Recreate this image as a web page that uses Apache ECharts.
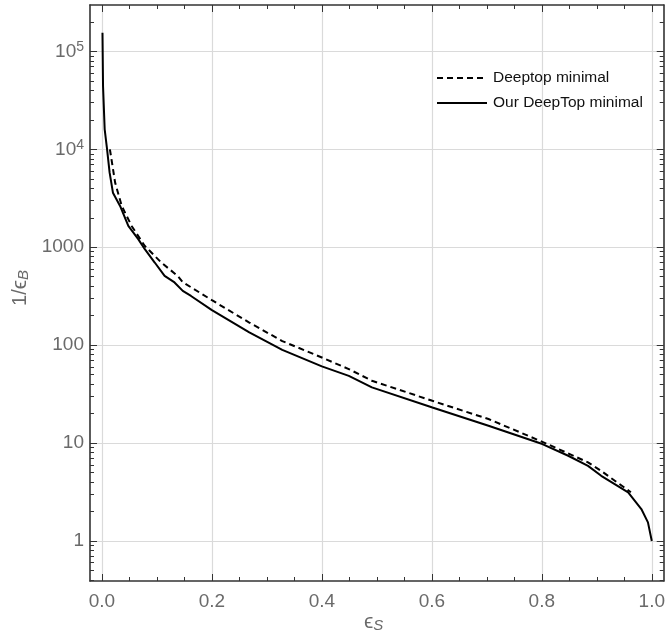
<!DOCTYPE html>
<html>
<head>
<meta charset="utf-8">
<script src="https://cdn.jsdelivr.net/npm/echarts@6/dist/echarts.min.js"></script>
<style>
  html, body { margin: 0; padding: 0; background: #ffffff; }
  #chart { width: 668px; height: 642px; }
</style>
</head>
<body>
<div id="chart"></div>
<script>
// Axis ranges (plot frame extends a little past the data)
const xRange = [-0.0217, 1.0217];
const yRange = [0.39, 298000];

// Tick positions
const xMajorTicks = [0, 0.2, 0.4, 0.6, 0.8, 1.0];
const xMinorTicks = [0.05, 0.1, 0.15, 0.25, 0.3, 0.35, 0.45, 0.5, 0.55, 0.65, 0.7, 0.75, 0.85, 0.9, 0.95];
const yMajorTicks = [1, 10, 100, 1000, 10000, 100000];
const yMinorTicks = [0.4, 0.5, 0.6, 0.7, 0.8, 0.9,
  2, 3, 4, 5, 6, 7, 8, 9,
  20, 30, 40, 50, 60, 70, 80, 90,
  200, 300, 400, 500, 600, 700, 800, 900,
  2000, 3000, 4000, 5000, 6000, 7000, 8000, 9000,
  20000, 30000, 40000, 50000, 60000, 70000, 80000, 90000,
  200000];

// Series names
const seriesNames = ['Deeptop minimal', 'Our DeepTop minimal'];

// [signal efficiency, background rejection]
const deeptopMinimal = [
  [0.0145, 10000], [0.024, 4570], [0.036, 2640], [0.054, 1650], [0.078, 1030],
  [0.108, 697], [0.138, 508], [0.147, 440], [0.2, 288], [0.268, 170],
  [0.328, 110], [0.4, 74.8], [0.449, 56.9], [0.491, 43.3], [0.601, 27],
  [0.703, 17.6], [0.801, 10.3], [0.884, 6.35], [0.908, 5.2], [0.962, 3.14]
];
const ourDeepTopMinimal = [
  [0.001, 155000], [0.002, 44300], [0.005, 16000], [0.009, 10400], [0.014, 5780],
  [0.020, 3610], [0.033, 2640], [0.048, 1650], [0.066, 1210], [0.078, 955],
  [0.096, 698], [0.114, 509], [0.132, 437], [0.147, 358], [0.162, 318],
  [0.2, 228], [0.268, 135], [0.328, 89.6], [0.4, 60.7], [0.449, 48.6],
  [0.491, 37], [0.601, 23.1], [0.703, 15], [0.801, 9.77], [0.848, 7.42],
  [0.884, 5.84], [0.908, 4.63], [0.957, 3.14], [0.981, 2.12], [0.993, 1.55],
  [1.0, 1.0]
];

const frameColor = '#333333';
const labelColor = '#6a6a6a';
const gridColor = '#dadada';
const font = 'Liberation Sans, Arial, sans-serif';

function xAxisDef(position, ticks, major) {
  return {
    type: 'value', position: position, min: xRange[0], max: xRange[1],
    axisLine: { show: major, onZero: false, lineStyle: { color: frameColor, width: 1.6 } },
    axisTick: { show: true, inside: true, length: major ? 7 : 4, customValues: ticks,
      lineStyle: { color: frameColor, width: 1 } },
    axisLabel: { show: major && position === 'bottom', customValues: ticks, margin: 11,
      color: labelColor, fontSize: 19, fontFamily: font,
      formatter: v => v.toFixed(1) },
    splitLine: { show: major && position === 'bottom', lineStyle: { color: gridColor, width: 1.2 } }
  };
}
function yAxisDef(position, ticks, major) {
  return {
    type: 'log', logBase: 10, position: position, min: yRange[0], max: yRange[1],
    axisLine: { show: major, onZero: false, lineStyle: { color: frameColor, width: 1.6 } },
    axisTick: { show: true, inside: true, length: major ? 7 : 4, customValues: ticks,
      lineStyle: { color: frameColor, width: 1 } },
    axisLabel: { show: major && position === 'left', customValues: ticks, margin: 6,
      color: labelColor, fontSize: 19, fontFamily: font,
      formatter: v => {
        if (v >= 10000) return '10{sup|' + Math.round(Math.log10(v)) + '}';
        return String(Math.round(v));
      },
      rich: { sup: { fontSize: 14, color: labelColor, fontFamily: font, padding: [0, 0, 9, 0] } } },
    splitLine: { show: major && position === 'left', lineStyle: { color: gridColor, width: 1.2 } }
  };
}

const chart = echarts.init(document.getElementById('chart'), null, { renderer: 'canvas' });

chart.setOption({
  animation: false,
  backgroundColor: '#ffffff',
  grid: { left: 90, top: 5, width: 576, height: 576, containLabel: false },
  xAxis: [
    xAxisDef('bottom', xMajorTicks, true),
    xAxisDef('bottom', xMinorTicks, false),
    xAxisDef('top', xMajorTicks, true),
    xAxisDef('top', xMinorTicks, false)
  ],
  yAxis: [
    yAxisDef('left', yMajorTicks, true),
    yAxisDef('left', yMinorTicks, false),
    yAxisDef('right', yMajorTicks, true),
    yAxisDef('right', yMinorTicks, false)
  ],
  graphic: [
    {
      type: 'text', left: 364, top: 612,
      style: {
        text: '{i|ϵ}{s|S}', fontFamily: font,
        rich: {
          i: { fontSize: 21, fill: labelColor, fontFamily: font },
          s: { fontSize: 15, fill: labelColor, fontFamily: font, fontStyle: 'italic', padding: [7, 0, 0, 0] }
        }
      }
    },
    {
      type: 'text', left: 10, top: 270, rotation: Math.PI / 2,
      style: {
        text: '1/{i|ϵ}{s|B}', fontFamily: font, fontSize: 20, fill: labelColor,
        rich: {
          i: { fontSize: 21, fill: labelColor, fontFamily: font },
          s: { fontSize: 15, fill: labelColor, fontFamily: font, fontStyle: 'italic', padding: [7, 0, 0, 0] }
        }
      }
    }
  ],
  legend: {
    orient: 'vertical', left: 431, top: 65,
    itemWidth: 50, itemHeight: 18, itemGap: 9,
    itemStyle: { opacity: 0 },
    textStyle: { fontSize: 15.5, color: '#111111', fontFamily: font, padding: [0, 0, 0, 1] },
    data: seriesNames
  },
  series: [
    {
      name: seriesNames[0], type: 'line', data: deeptopMinimal,
      xAxisIndex: 0, yAxisIndex: 0, symbol: 'none', showSymbol: false,
      lineStyle: { color: '#000000', width: 2, type: [6, 4] },
      itemStyle: { color: '#000000' }
    },
    {
      name: seriesNames[1], type: 'line', data: ourDeepTopMinimal,
      xAxisIndex: 0, yAxisIndex: 0, symbol: 'none', showSymbol: false,
      lineStyle: { color: '#000000', width: 2 },
      itemStyle: { color: '#000000' }
    }
  ]
});
</script>
</body>
</html>
